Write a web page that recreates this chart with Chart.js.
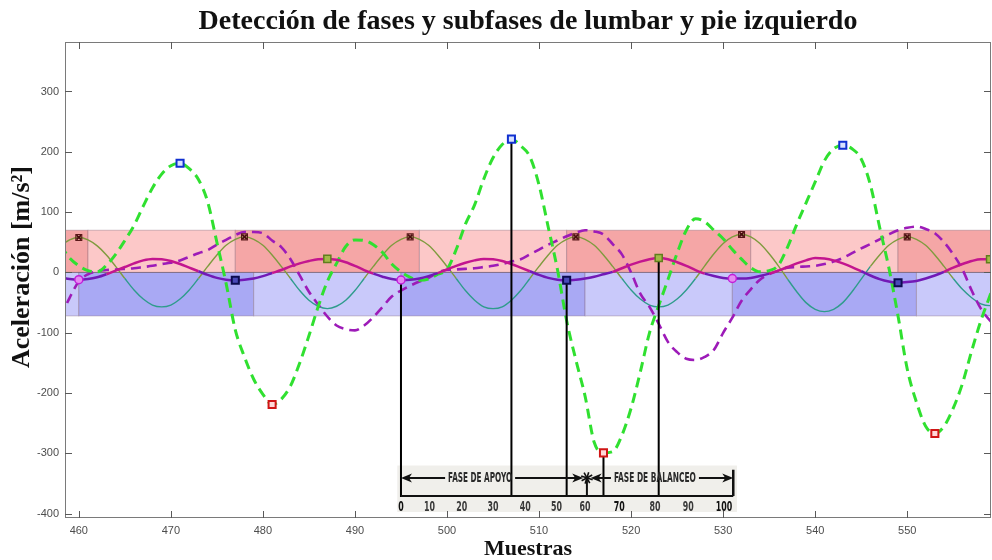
<!DOCTYPE html>
<html><head><meta charset="utf-8">
<script src="https://cdn.jsdelivr.net/npm/chart.js@4.4.1/dist/chart.umd.min.js"></script>
<style>html,body{margin:0;padding:0;background:#fff}canvas{display:block}</style>
</head><body>
<canvas id="c" width="992" height="560"></canvas>
<script>
// ---------- DATA ----------
const sampleStart = 458; // first sample index (458 ... 560)
const lumbarThin = [44,54,58,54,44,29,10,-10,-29,-44,-54,-57,-54,-44,-29,-10,10,29,45,55,59,55,45,29,10,-10,-30,-46,-56,-60,-56,-46,-30,-10,10,29,45,55,59,55,45,29,10,-10,-30,-46,-57,-60,-57,-46,-30,-10,10,29,45,55,59,55,45,29,10,-10,-29,-44,-54,-57,-54,-44,-29,-10,11,31,48,59,63,59,48,31,11,-11,-32,-50,-61,-65,-61,-50,-32,-11,10,29,45,55,59,55,45,29,10,-10,-28,-42,-52,-55,-52];
const lumbarMain = [-8,-11,-12,-11,-8,-3,3,9,15,20,22.5,22,19,14,8,2,-4,-9,-12,-13,-12,-10,-6,-1,4,10,15,19,22,22.5,21,17,11,4,-2,-7,-11,-12.5,-12,-10,-6,-1,5,11,16,20,22.5,22,19,14,8,2,-4,-9,-12,-13,-12,-10,-7,-3,1,7,13,18,22,24,22,17,11,4,-2,-6,-9,-10,-10,-9,-6,-2,3,9,15,20,24,23,20,15,9,2,-5,-11,-15,-17,-16,-14,-10,-5,1,8,14,19,22,22,20];
const footGreen = [45,24,11,3,1,12,30,53,78,110,140,163,177,181,172,154,117,50,-18,-95,-140,-177,-202,-219,-210,-188,-150,-105,-57,-15,15,43,54,53,46,33,14,1,-8,-13,-11,-3,5,38,80,112,155,190,212,221,210,192,145,75,5,-80,-145,-205,-282,-299,-297,-270,-225,-165,-100,-55,-12,32,70,89,84,70,56,38,22,8,1,3,12,42,80,115,150,185,205,211,205,188,145,75,8,-72,-160,-215,-255,-267,-255,-225,-184,-130,-80,-38,5];
const footPurple = [-75,-42,-15,-3,2,4,5,6,7,9,11,14,16,20,26,32,37,46,54,62,67,67,65,53,42,22,-5,-32,-53,-73,-88,-94,-96,-88,-74,-57,-40,-30,-22,-15,-9,0,4,5,6,7,9,11,14,18,22,30,38,46,53,60,66,70,68,63,47,30,0,-35,-57,-85,-115,-132,-143,-145,-140,-128,-100,-75,-47,-28,-12,-3,3,8,9,10,11,14,18,24,32,40,47,55,63,70,74,76,72,65,50,30,5,-30,-60,-80,-95];

const footPeakX = [471, 507, 543],       footPeakY = [181, 221, 211];
const footMinX = [481, 517, 553],        footMinY = [-219, -299, -267];
const lumbarPeakX = [460, 478, 496, 514, 532, 550], lumbarPeakY = [58, 59, 59, 59, 63, 59];
const heelX = [460, 495, 531],           heelY = [-12, -12.5, -10];
const toeX = [477, 513, 549],            toeY = [-13, -13, -17];
const midX = [487, 523, 559],            midY = [22.5, 24, 22];

const eventX = [495, 507, 513, 517, 523];
const eventY = [-12.5, 221, -13, -299, 24];
const eventBottom = -372;

const redBounds = [458.5, 461, 477, 497, 513, 533, 549, 560];   // starts dark
const blueBounds = [458.5, 460, 479, 495, 515, 531, 551, 560];  // starts light
const bandTop = 70, bandBottom = -72;

const gaitLabels = ['0','10','20','30','40','50','60','70','80','90','100'];
const gaitLabelX = [495.0, 498.1, 501.6, 505.0, 508.5, 511.9, 515.0, 518.7, 522.6, 526.2, 530.1];
const phaseNames = ['FASE DE APOYO', 'FASE DE BALANCEO'];
const phaseStart = [495.0, 515.6], phaseEnd = [514.8, 531.1];

// ---------- HELPERS ----------
const samples = lumbarThin.map((_, i) => sampleStart + i);
const pts = vals => samples.map((s, i) => ({x: s, y: vals[i]}));
const xy = (xs, ys) => xs.map((x, i) => ({x, y: ys[i]}));
const signColor = (pos, neg) => ctx => ((ctx.p0.parsed.y + ctx.p1.parsed.y) / 2 >= 0 ? pos : neg);

const marker = (data, style, r, border, bg, bw) => ({
  type: 'scatter', data, showLine: false, pointStyle: style, pointRadius: r,
  pointBorderColor: border, pointBackgroundColor: bg, pointBorderWidth: bw
});

const datasets = [];
datasets.push(marker(xy(lumbarPeakX, lumbarPeakY), 'crossRot', 3.2, '#4a0f0f', '#4a0f0f', 1.8));
datasets.push(marker(xy(lumbarPeakX, lumbarPeakY), 'rect', 4.2, '#5a1818', 'rgba(0,0,0,0)', 1.1));
datasets.push(marker(xy(footPeakX, footPeakY), 'rect', 5, '#1030d0', '#d8e2ff', 2));
datasets.push(marker(xy(footMinX, footMinY), 'rect', 5, '#d01515', '#ffd8d8', 2));
datasets.push(marker(xy(heelX, heelY), 'circle', 4, '#c21ed8', '#e58af2', 1.5));
datasets.push(marker(xy(toeX, toeY), 'rect', 5, '#0c0c50', '#4a4ab8', 2));
datasets.push(marker(xy(midX, midY), 'rect', 5, '#5f7f1c', '#a4b848', 1.5));
eventX.forEach((x, i) => datasets.push({
  type: 'line', data: [{x, y: eventY[i]}, {x, y: eventBottom}],
  borderColor: '#000', borderWidth: 2, pointRadius: 0
}));
datasets.push({type: 'line', data: pts(lumbarMain), borderWidth: 2.5, pointRadius: 0,
  cubicInterpolationMode: 'monotone', borderColor: '#a0189e',
  segment: {borderColor: signColor('#c3168f', '#7219b6')}});
datasets.push({type: 'line', data: pts(footGreen), borderWidth: 3, pointRadius: 0,
  cubicInterpolationMode: 'monotone', borderColor: '#30e030', borderDash: [10, 6]});
datasets.push({type: 'line', data: pts(footPurple), borderWidth: 2.6, pointRadius: 0,
  cubicInterpolationMode: 'monotone', borderColor: '#9d1bb8', borderDash: [10, 6]});
datasets.push({type: 'line', data: pts(lumbarThin), borderWidth: 1.4, pointRadius: 0,
  cubicInterpolationMode: 'monotone', borderColor: '#5a9a5a',
  segment: {borderColor: signColor('#7f9b3e', '#2f9c8c')}});

// ---------- PLUGINS ----------
const bandPlugin = {
  id: 'bands',
  beforeDatasetsDraw(chart) {
    const {ctx, chartArea: a, scales: {x, y}} = chart;
    ctx.save();
    ctx.beginPath(); ctx.rect(a.left, a.top, a.right - a.left, a.bottom - a.top); ctx.clip();
    const drawBand = (bounds, v0, v1, dark, light, startDark) => {
      const yA = y.getPixelForValue(v0), yB = y.getPixelForValue(v1);
      for (let i = 0; i < bounds.length - 1; i++) {
        const xa = x.getPixelForValue(bounds[i]), xb = x.getPixelForValue(bounds[i + 1]);
        const isDark = (i % 2 === 0) === startDark;
        ctx.fillStyle = isDark ? dark : light;
        ctx.fillRect(xa, Math.min(yA, yB), xb - xa, Math.abs(yB - yA));
        ctx.strokeStyle = 'rgba(120,90,110,0.35)'; ctx.lineWidth = 1;
        ctx.strokeRect(xa, Math.min(yA, yB), xb - xa, Math.abs(yB - yA));
      }
    };
    drawBand(redBounds, 0, bandTop, '#f5a6a6', '#fcc8c8', true);
    drawBand(blueBounds, bandBottom, 0, '#a9a9f4', '#c9c9fa', false);
    ctx.strokeStyle = 'rgba(110,90,110,0.6)'; ctx.lineWidth = 1;
    ctx.beginPath(); ctx.moveTo(a.left, y.getPixelForValue(0)); ctx.lineTo(a.right, y.getPixelForValue(0)); ctx.stroke();
    const gx0 = x.getPixelForValue(494.6), gx1 = x.getPixelForValue(531.5);
    const gy0 = y.getPixelForValue(-320), gy1 = y.getPixelForValue(-397);
    ctx.fillStyle = '#f0efeb';
    ctx.fillRect(gx0, gy0, gx1 - gx0, gy1 - gy0);
    ctx.restore();
  },
  afterDatasetsDraw(chart) {
    const {ctx, scales: {x, y}} = chart;
    ctx.save();
    const arrowY = y.getPixelForValue(-340.5);
    const baseY = y.getPixelForValue(-370.5);
    const numY = y.getPixelForValue(-389);
    const head = (px, py, dir) => {
      ctx.beginPath(); ctx.moveTo(px, py); ctx.lineTo(px - dir * 11, py - 4.5); ctx.lineTo(px - dir * 8, py); ctx.lineTo(px - dir * 11, py + 4.5); ctx.closePath(); ctx.fill();
    };
    ctx.fillStyle = '#111'; ctx.strokeStyle = '#111';
    ctx.font = 'bold 14px "DejaVu Sans Condensed", "Liberation Sans Narrow", "Liberation Sans", sans-serif';
    ctx.textBaseline = 'middle'; ctx.textAlign = 'center';
    const widths = [64, 82];
    phaseNames.forEach((name, i) => {
      const xa = x.getPixelForValue(phaseStart[i]), xb = x.getPixelForValue(phaseEnd[i]);
      const cx = (xa + xb) / 2 + (i === 0 ? -12 : -7);
      const w = widths[i];
      ctx.lineWidth = 2;
      ctx.beginPath(); ctx.moveTo(xa + 4, arrowY); ctx.lineTo(cx - w / 2 - 3, arrowY);
      ctx.moveTo(cx + w / 2 + 3, arrowY); ctx.lineTo(xb - 4, arrowY); ctx.stroke();
      head(xa, arrowY, -1); head(xb, arrowY, 1);
      ctx.fillStyle = '#2a2a2a';
      ctx.fillText(name, cx, arrowY + 0.5, w);
      ctx.fillStyle = '#111';
    });
    const sx = x.getPixelForValue(515.2);
    ctx.lineWidth = 1.6;
    for (let k = 0; k < 4; k++) {
      const ang = k * Math.PI / 4 + 0.3;
      ctx.beginPath(); ctx.moveTo(sx - 6 * Math.cos(ang), arrowY - 6 * Math.sin(ang)); ctx.lineTo(sx + 6 * Math.cos(ang), arrowY + 6 * Math.sin(ang)); ctx.stroke();
    }
    ctx.lineWidth = 2;
    ctx.beginPath(); ctx.moveTo(sx, arrowY); ctx.lineTo(sx, baseY); ctx.stroke();
    const rx = x.getPixelForValue(531.1);
    ctx.lineWidth = 2.5;
    ctx.beginPath(); ctx.moveTo(rx, y.getPixelForValue(-327)); ctx.lineTo(rx, baseY); ctx.stroke();
    ctx.lineWidth = 2.2;
    ctx.beginPath(); ctx.moveTo(x.getPixelForValue(495), baseY); ctx.lineTo(rx, baseY); ctx.stroke();
    ctx.font = 'bold 14px "DejaVu Sans Condensed", "Liberation Sans Narrow", "Liberation Sans", sans-serif';
    gaitLabels.forEach((t, i) => {
      ctx.fillStyle = (t === '70' || t === '100' || t === '0') ? '#111' : '#3a3a3a';
      ctx.fillText(t, x.getPixelForValue(gaitLabelX[i]), numY, t.length * 5.5);
    });
    ctx.restore();
  },
  afterDraw(chart) {
    const {ctx, chartArea: a, scales: {x, y}} = chart;
    ctx.save();
    ctx.strokeStyle = '#7a7a7a'; ctx.lineWidth = 1;
    ctx.strokeRect(a.left + 0.5, a.top + 0.5, a.right - a.left - 1, a.bottom - a.top - 1);
    ctx.strokeStyle = '#5a5a5a';
    ctx.beginPath();
    x.ticks.forEach(t => {
      const px = Math.round(x.getPixelForValue(t.value)) + 0.5;
      ctx.moveTo(px, a.bottom); ctx.lineTo(px, a.bottom - 7);
      ctx.moveTo(px, a.top); ctx.lineTo(px, a.top + 7);
    });
    y.ticks.forEach(t => {
      const py = Math.round(y.getPixelForValue(t.value)) + 0.5;
      ctx.moveTo(a.left, py); ctx.lineTo(a.left + 7, py);
      ctx.moveTo(a.right, py); ctx.lineTo(a.right - 7, py);
    });
    ctx.stroke();
    ctx.restore();
  }
};

const serif = '"Liberation Serif", "DejaVu Serif", serif';
const sans = '"Liberation Sans", Arial, sans-serif';

new Chart(document.getElementById('c'), {
  type: 'line',
  data: {datasets},
  options: {
    responsive: false, animation: false, devicePixelRatio: 1,
    layout: {autoPadding: false, padding: {left: 0, right: 1, top: 0, bottom: 0}},
    plugins: {
      legend: {display: false}, tooltip: {enabled: false},
      title: {display: true, fullSize: false,
        text: 'Detección de fases y subfases de lumbar y pie izquierdo',
        color: '#111', font: {family: serif, size: 28, weight: 'bold', lineHeight: 1.2},
        padding: {top: 5, bottom: 3.4}}
    },
    scales: {
      x: {type: 'linear', min: 458.5, max: 559.1,
        afterFit: s => { s.height = 42; s.paddingLeft = 0; s.paddingRight = 0; },
        grid: {display: false, drawTicks: false}, border: {display: false},
        ticks: {stepSize: 10, includeBounds: false, padding: 6, color: '#4d4d4d', autoSkip: false, maxRotation: 0,
          font: {family: sans, size: 11}},
        title: {display: true, text: 'Muestras', color: '#111',
          font: {family: serif, size: 22, weight: 'bold', lineHeight: 1.0}, padding: {top: 0, bottom: 0}}
      },
      y: {type: 'linear', min: -407, max: 382,
        afterFit: s => { s.width = 65; s.paddingTop = 0; s.paddingBottom = 0; },
        grid: {display: false, drawTicks: false}, border: {display: false},
        ticks: {stepSize: 100, includeBounds: false, padding: 6, color: '#4d4d4d',
          font: {family: sans, size: 11}},
        title: {display: true, text: '    Aceleración [m/s²]', color: '#111',
          font: {family: serif, size: 26, weight: 'bold', lineHeight: 1.2}, padding: {top: 7, bottom: 0}}
      }
    }
  },
  plugins: [bandPlugin]
});
</script>
</body></html>
